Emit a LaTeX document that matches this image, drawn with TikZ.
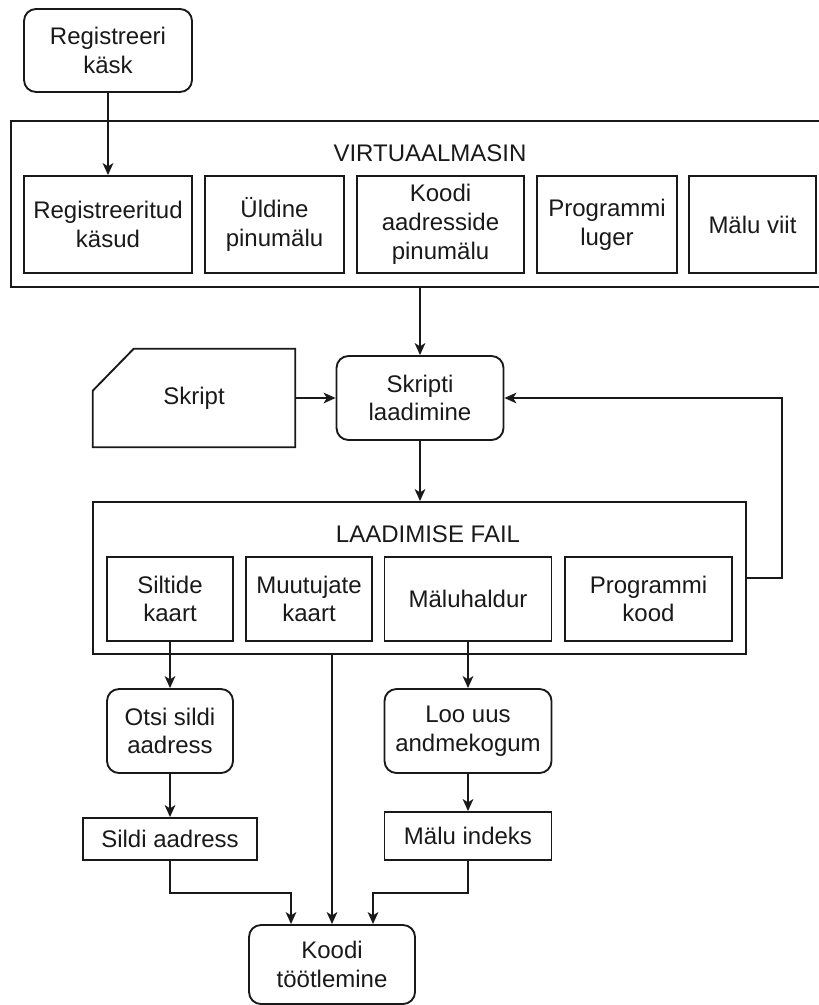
\documentclass[tikz,border=0pt]{standalone}
\usepackage{fontspec}
\setmainfont{Liberation Sans}
\usetikzlibrary{arrows.meta,fit}

\begin{document}
\begin{tikzpicture}[x=0.75pt,y=-0.75pt,
  every node/.style={font=\fontsize{18}{21.6}\selectfont, align=center, text=black!90},
  sz/.style 2 args={minimum width=#1*0.75pt, minimum height=#2*0.75pt},
  bare/.style={inner sep=0pt},
  sq/.style={draw=black!90, line width=1.4pt, inner sep=0pt},
  rnd/.style={sq, rounded corners=9pt},
  link/.style={draw=black!90, line width=1.4pt},
  arr/.style={link, -{Stealth[length=9pt,width=8pt,inset=2.5pt]}},
]
\useasboundingbox (0,0) rectangle (818,1005);

% command entry
\node[rnd, sz={168}{83}] (rk) at (108,50.5) {Registreeri\\käsk};

% virtual machine frame (runs past the right margin)
\node[bare, fit={(11,121)(849,287)}] (vm) {};
\draw[link] (vm.north east) -- (vm.north west) -- (vm.south west) -- (vm.south east);
\node (vmt) at (430,153) {VIRTUAALMASIN};
\node[sq, sz={168}{97}] (rkd) at (108,224.5) {Registreeritud\\käsud};
\node[sq, sz={139}{97}] (up)  at (274.5,224.5) {Üldine\\pinumälu};
\node[sq, sz={167}{97}] (kap) at (440.5,224.5) {Koodi\\aadresside\\pinumälu};
\node[sq, sz={140}{97}] (pl)  at (607,224.5) {Programmi\\luger};
\node[sq, sz={127}{97}] (mv)  at (752.5,224.5) {Mälu viit};

% script input and loader
\node[bare, sz={202}{98}] (skr) at (194,398) {Skript};
\draw[link] (skr.north west) ++(0,42) -- ++(41,-42) -- (skr.north east)
  -- (skr.south east) -- (skr.south west) -- cycle;
\node[rnd, sz={167}{84}] (sl) at (420,398) {Skripti\\laadimine};

% load file frame
\node[sq, fit={(93,502)(746,654)}] (lf) {};
\node (lft) at (428,534) {LAADIMISE FAIL};
\node[sq, sz={126}{84}] (sk) at (170,599) {Siltide\\kaart};
\node[sq, sz={126}{84}] (mk) at (309,599) {Muutujate\\kaart};
\node[sq, sz={167}{84}] (mh) at (468,599) {Mäluhaldur};
\node[sq, sz={167}{84}] (pk) at (648.5,599) {Programmi\\kood};

% lower processing steps
\node[rnd, sz={126}{84}] (osa) at (170,731) {Otsi sildi\\aadress};
\node[rnd, sz={167}{84}] (luu) at (468,731) {Loo uus\\andmekogum};
\node[sq, sz={174}{42}] (sa) at (170,839) {Sildi aadress};
\node[sq, sz={167}{48}] (mi) at (468,836) {Mälu indeks};
\node[rnd, sz={166}{79}] (kt) at (332,964.5) {Koodi\\töötlemine};

% connectors
\draw[arr] (rk.south) -- (rk.south |- rkd.north);
\draw[arr] (vm.south -| sl.north) -- (sl.north);
\draw[arr] (skr.east |- sl.west) -- (sl.west);
\draw[arr] (sl.south) -- (sl.south |- lf.north);
\draw[arr] (lf.east) -- ++(35,0) |- (sl.east);
\draw[arr] (sk.south) -- (osa.north);
\draw[arr] (lf.south -| kt.north) -- (kt.north);
\draw[arr] (mh.south) -- (luu.north);
\draw[arr] (osa.south) -- (sa.north);
\draw[arr] (luu.south) -- (mi.north);
\draw[arr] (sa.south) -- ++(0,32) -| ([xshift=-30.75pt]kt.north);
\draw[arr] (mi.south) -- ++(0,32) -| ([xshift=30.75pt]kt.north);
\end{tikzpicture}
\end{document}
